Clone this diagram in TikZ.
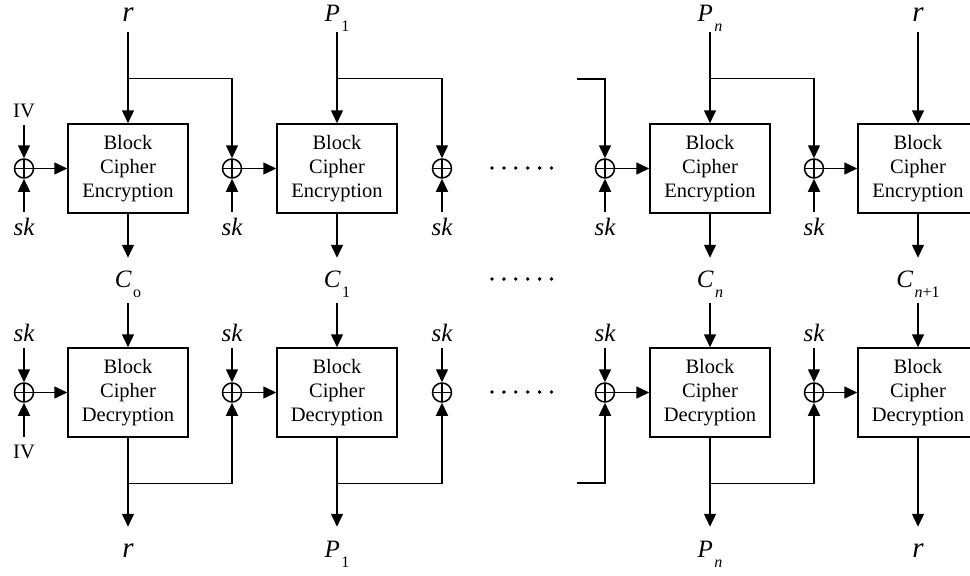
\documentclass[tikz,border=0pt]{standalone}
\usepackage{fontspec}
\setmainfont{Liberation Serif}
\usetikzlibrary{arrows.meta}
\newcommand\subs[1]{\kern1.5pt\raisebox{-10.5pt}{\fontsize{16}{16}\selectfont\upshape #1}}
\begin{document}
\begin{tikzpicture}[x=1pt,y=-1pt,
 line width=1.5pt,
 arr/.style={-{Triangle[length=13pt,width=12pt]}},
 blk/.style={draw, minimum width=120pt, minimum height=89pt, inner sep=0pt, align=center,
   font=\fontsize{20.5}{24.3}\selectfont},
 xor/.style={circle, draw, minimum size=19pt, inner sep=0pt,
   path picture={\draw[line width=1.2pt] (path picture bounding box.north) -- (path picture bounding box.south)
     (path picture bounding box.west) -- (path picture bounding box.east);}},
 lab/.style={anchor=base, inner sep=0pt, font=\fontsize{25}{25}\selectfont\itshape},
 rlab/.style={anchor=base, inner sep=0pt, font=\fontsize{29}{29}\selectfont\itshape},
 iv/.style={anchor=base, inner sep=0pt, font=\fontsize{20.5}{20.5}\selectfont}
]
\useasboundingbox (0,0) rectangle (970,576);
\clip (0,0) rectangle (970,576);

% ---------- blocks ----------
\foreach \n/\x in {1/128,2/337,3/710,4/918}{
  \node[blk] (E\n) at (\x,168.5) {Block\\Cipher\\Encryption};
  \node[blk] (D\n) at (\x,392.5) {Block\\Cipher\\Decryption};
}
% ---------- xors ----------
\foreach \n/\x in {0/24,1/232,2/442,3/605,4/814}{
  \node[xor] (e\n) at (\x,168.5) {};
  \node[xor] (d\n) at (\x,392.5) {};
}

% ---------- top labels ----------
\node[rlab] (t1) at (128,21) {r};
\node[lab]  (t2) at (337,21) {P\subs{1}};
\node[lab]  (t3) at (710,21) {P\subs{\itshape n}};
\node[rlab] (t4) at (918,21) {r};
% ---------- middle C labels ----------
\node[lab] (c1) at (128,287) {C\subs{o}};
\node[lab] (c2) at (337,287) {C\subs{1}};
\node[lab] (c3) at (710,287) {C\subs{\itshape n}};
\node[lab] (c4) at (918,287) {C\subs{\itshape n\upshape +1}};
% ---------- bottom labels ----------
\node[rlab] (o1) at (128,557) {r};
\node[lab]  (o2) at (337,557) {P\subs{1}};
\node[lab]  (o3) at (710,557) {P\subs{\itshape n}};
\node[rlab] (o4) at (918,557) {r};

% ---------- IV / sk labels ----------
\node[iv] (ivE) at (24,117) {IV};
\node[iv] (ivD) at (24,458) {IV};
\foreach \n/\x in {0/24,1/232,2/442,3/605,4/814}{
  \node[lab] (ske\n) at (\x,235) {sk};
  \node[lab] (skd\n) at (\x,341) {sk};
  \coordinate (ske\n s) at (\x,212);
  \coordinate (skd\n s) at (\x,348);
  \draw[arr] (ske\n s) -- (e\n);
  \draw[arr] (skd\n s) -- (d\n);
}
\coordinate (ivEs) at (24,125);
\coordinate (ivDs) at (24,437);
\draw[arr] (ivEs) -- (e0);
\draw[arr] (ivDs) -- (d0);

% ---------- vertical flows ----------
\foreach \n in {1,2,3,4}{
  \path (E\n.north) ++(0,-91) coordinate (ts\n);
  \draw[arr] (ts\n) -- (E\n.north);
  \path (E\n.south) ++(0,44) coordinate (te\n);
  \draw[arr] (E\n.south) -- (te\n);
  \path (D\n.north) ++(0,-44) coordinate (ds\n);
  \draw[arr] (ds\n) -- (D\n.north);
  \path (D\n.south) ++(0,89) coordinate (de\n);
  \draw[arr] (D\n.south) -- (de\n);
}
% xor -> block
\foreach \a/\b in {0/1,1/2,3/3,4/4}{
  \draw[arr] (e\a) -- (E\b.west);
  \draw[arr] (d\a) -- (D\b.west);
}
% branches
\foreach \n/\k in {1/1,2/2,3/4}{
  \path (E\n.north) ++(0,-45) coordinate (be\n);
  \draw[arr] (be\n) -| (e\k);
  \path (D\n.south) ++(0,45.5) coordinate (bd\n);
  \draw[arr] (bd\n) -| (d\k);
}
% incoming from the left (column n)
\coordinate (inE) at (577,79);
\coordinate (inD) at (577,483);
\draw[arr] (inE) -| (e3);
\draw[arr] (inD) -| (d3);

% ---------- dots ----------
\foreach \y in {168,279,392}{
  \foreach \i in {0,...,5}{
    \fill (492+11.9*\i,\y) circle (1.9pt);
  }
}
\end{tikzpicture}
\end{document}
